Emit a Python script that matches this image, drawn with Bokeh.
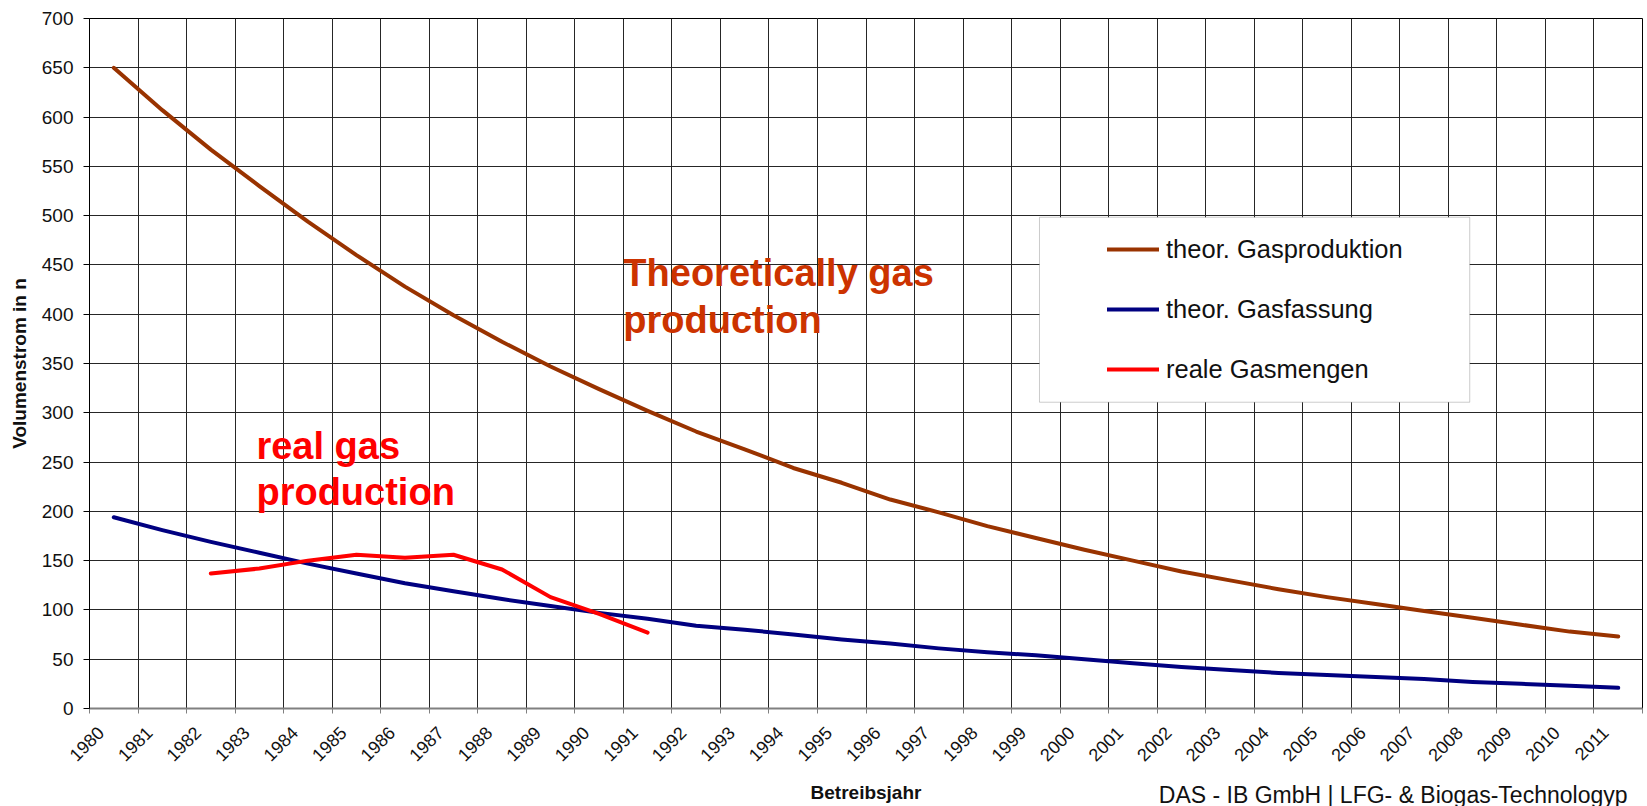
import math
from bokeh.plotting import figure
from bokeh.models import (Range1d, FixedTicker, Label, Legend, LegendItem,
                          BoxAnnotation, LinearAxis, Grid, Title)
from bokeh.embed import file_html
from bokeh.resources import INLINE

# ---------------- data ----------------
years = list(range(1980, 2012))
theor_gasproduktion = [650, 607, 567, 530, 494, 460, 428, 399, 372, 347,
                       324, 302, 281, 263, 244, 229, 212, 199, 185, 173,
                       161, 150, 139, 130, 121, 113, 106, 99, 92, 85,
                       78, 73]
theor_gasfassung = [194, 181, 169, 158, 147, 137, 127, 119, 111, 104,
                    97, 91, 84, 80, 75, 70, 66, 61, 57, 54,
                    50, 46, 42, 39, 36, 34, 32, 30, 27, 25,
                    23, 21]
real_years = list(range(1982, 1992))
reale_gasmengen = [137, 142, 150, 156, 153, 156, 141, 113, 96, 77]

tick_years = list(range(1980, 2013))
y_ticks = list(range(0, 701, 50))
series_names = ["theor. Gasproduktion", "theor. Gasfassung", "reale Gasmengen"]

# category centres (Excel category axis: points between tick marks)
x_theor = [y + 0.5 for y in years]
x_real = [y + 0.5 for y in real_years]

FONT = "Liberation Sans"

p = figure(width=1647, height=806, output_backend="svg", toolbar_location=None,
           x_range=Range1d(1980, 2012), y_range=Range1d(0, 700),
           x_axis_location=None, min_border_left=89, min_border_right=5,
           min_border_top=18, min_border_bottom=98, title=None)
p.background_fill_color = "white"
p.border_fill_color = "white"
p.outline_line_color = "black"
p.outline_line_width = 1

# y axis
ya = p.yaxis[0]
ya.ticker = FixedTicker(ticks=y_ticks)
ya.major_tick_out = 6
ya.major_tick_in = 0
ya.minor_tick_out = 0
ya.minor_tick_in = 0
ya.major_label_standoff = 10
ya.major_label_text_font = FONT
ya.major_label_text_font_size = "19px"
ya.major_label_text_color = "#111111"
ya.axis_line_color = "black"
ya.major_tick_line_color = "black"
ya.axis_label = "Volumenstrom in n"
ya.axis_label_standoff = 9
ya.axis_label_text_font = FONT
ya.axis_label_text_font_size = "19px"
ya.axis_label_text_font_style = "bold"
ya.axis_label_text_color = "#111111"
p.ygrid.grid_line_color = "#262626"
p.ygrid.grid_line_width = 1

# x axis: labels slightly right of the boundary ticks (Excel style),
# tick marks (as minor ticks) on the category boundaries
shift = 0.23
p.extra_x_ranges = {"labels": Range1d(1980 - shift, 2012 - shift)}
ax = LinearAxis(x_range_name="labels",
                ticker=FixedTicker(ticks=years,
                                   minor_ticks=[t - shift for t in tick_years]),
                axis_line_color="#808080", axis_line_width=2,
                major_tick_line_color=None, major_tick_out=0, major_tick_in=0,
                minor_tick_line_color="#808080", minor_tick_out=5,
                minor_tick_in=0,
                major_label_orientation=math.pi / 4,
                major_label_standoff=16,
                major_label_text_font=FONT,
                major_label_text_font_size="18px",
                major_label_text_color="#111111",
                axis_label="Betreibsjahr", axis_label_standoff=12,
                axis_label_text_font=FONT, axis_label_text_font_size="19px",
                axis_label_text_font_style="bold",
                axis_label_text_color="#111111")
p.add_layout(ax, "below")

note = Title(text="DAS - IB GmbH | LFG- & Biogas-Technologyp",
             align="right", offset=15, vertical_align="top", standoff=-49,
             text_font=FONT, text_font_size="23px", text_font_style="normal",
             text_color="#111111")
p.add_layout(note, "below")

p.add_layout(Grid(dimension=0, ticker=FixedTicker(ticks=tick_years),
                  grid_line_color="#262626", grid_line_width=1))

# series
r1 = p.line(x_theor, theor_gasproduktion, line_color="#993300", line_width=4,
            line_join="round", line_cap="round")
r2 = p.line(x_theor, theor_gasfassung, line_color="#000080", line_width=4,
            line_join="round", line_cap="round")
r3 = p.line(x_real, reale_gasmengen, line_color="#FF0000", line_width=4,
            line_join="round", line_cap="round")

# legend frame + legend
box = BoxAnnotation(left=1999.575, right=2008.44, top=498.4, bottom=310.7,
                    fill_color="white", fill_alpha=1.0,
                    line_color="#555555", line_width=1)
p.add_layout(box)

legend = Legend(items=[LegendItem(label=series_names[0], renderers=[r1]),
                       LegendItem(label=series_names[1], renderers=[r2]),
                       LegendItem(label=series_names[2], renderers=[r3])],
                location=(1018, 309), orientation="vertical",
                glyph_width=52, glyph_height=60, label_height=60,
                spacing=0, padding=0, margin=0, label_standoff=7,
                border_line_color=None, background_fill_alpha=0,
                label_text_font=FONT, label_text_font_size="25.5px",
                label_text_color="#111111")
p.add_layout(legend, "center")

# annotations inside the plot area
def lab(x, y, text, size, color):
    p.add_layout(Label(x=x, y=y, text=text, text_font=FONT,
                       text_font_size=size, text_color=color,
                       text_font_style="bold", text_align="left",
                       text_baseline="alphabetic"))

lab(1991.0, 441.6, "Theoretically gas", "38px", "#CC3300")
lab(1991.0, 394.6, "production", "38px", "#CC3300")
lab(1983.44, 266.1, "real gas", "38px", "#FF0000")
lab(1983.44, 219.4, "production", "38px", "#FF0000")

open("out.html", "w").write(file_html(p, INLINE))
